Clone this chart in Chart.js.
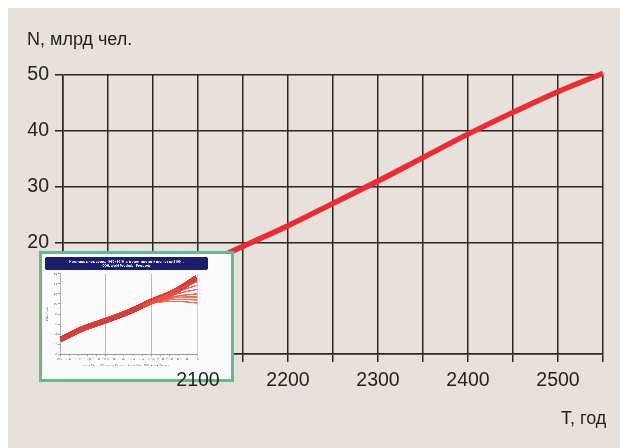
<!DOCTYPE html>
<html>
<head>
<meta charset="utf-8">
<script src="https://cdn.jsdelivr.net/npm/chart.js@4.4.1/dist/chart.umd.min.js"></script>
<style>
    html, body { margin: 0; padding: 0; background: #fff; overflow: hidden; }
    #frame { position: absolute; left: 8px; top: 8px; width: 612px; height: 440px; background: #e7e1db; }
    #main { position: absolute; left: 0; top: 0; }
    .lbl { position: absolute; font-family: 'Liberation Sans', Arial, sans-serif;
           font-size: 18px; color: #231f20; white-space: nowrap; line-height: normal; }
    #hold { position: absolute; left: -3000px; top: 0; }
</style>
</head>
<body>
<div id="frame"></div>
<canvas id="main" width="620" height="448"></canvas>
<div class="lbl" style="left:27px;top:29px">N, млрд чел.</div>
<div class="lbl" style="left:561px;top:408px">T, год</div>
<div id="hold"><canvas id="inset" width="195" height="131"></canvas></div>

<script>
/* ---- main chart data ---- */
const years = [2100, 2150, 2200, 2250, 2300, 2350, 2400, 2450, 2500, 2550];
const population = [15.6, 19.3, 23.0, 27.0, 31.0, 35.2, 39.4, 43.3, 47.0, 50.3];
const xTickLabels = [2100, 2200, 2300, 2400, 2500];
const yTickLabels = [20, 30, 40, 50];

/* ---- inset (old forecast picture) data ---- */
const insetYears = [1950, 1975, 2000, 2025, 2050, 2075, 2100];
const insetMedian = [2.9, 5.1, 6.7, 8.4, 10.5, 12.4, 15.2];
const fanYears = [2040, 2060, 2080, 2100];
const fanLines = [
    [9.6, 11.3, 13.0, 14.4],
    [9.6, 11.1, 12.5, 13.7],
    [9.6, 11.0, 12.1, 12.9],
    [9.6, 10.9, 11.6, 12.0],
    [9.6, 10.8, 11.3, 11.4],
    [9.6, 10.6, 10.9, 10.8],
    [9.6, 10.4, 10.5, 10.2]
];
const fanLabels = ['Верх. 95%', '', '', 'Прогноз', '', '', 'Ниж. 95%'];
const insetTitle = ['Население мира: оценка 1950–2010 гг. и вероятностный прогноз до 2100 г.',
                    'ООН, World Population Prospects'];

const FONT = "'Liberation Sans', Arial, sans-serif";
const GRID = '#2b2725';
const TEXT = '#231f20';
const RED = '#ee2a32';

const pts = (xs, ys) => xs.map((x, i) => ({ x, y: ys[i] }));

/* inset frame: white card, green border, navy title bar */
const insetFrame = {
    id: 'insetFrame',
    beforeDraw(chart) {
        const { ctx, width, height } = chart;
        ctx.save();
        ctx.fillStyle = '#fcfcfc';
        ctx.fillRect(0, 0, width, height);
        ctx.strokeStyle = '#64b98d';
        ctx.lineWidth = 3;
        ctx.strokeRect(1.5, 1.5, width - 3, height - 3);
        ctx.fillStyle = '#1d1e6b';
        ctx.beginPath();
        ctx.roundRect(6, 6, 163, 13, 2);
        ctx.fill();
        ctx.restore();
    }
};

const insetCanvas = document.getElementById('inset');
new Chart(insetCanvas, {
    type: 'line',
    data: {
        datasets: [
            ...fanLines.map((vals, i) => ({
                label: fanLabels[i], data: pts(fanYears, vals),
                borderColor: 'rgba(240,80,60,0.85)', borderWidth: 1.4, pointRadius: 0,
                cubicInterpolationMode: 'monotone'
            })),
            {
                label: 'Оценка', data: pts(insetYears, insetMedian),
                borderColor: 'rgba(206,36,34,0.88)', borderWidth: 6, pointRadius: 0,
                cubicInterpolationMode: 'monotone'
            }
        ]
    },
    options: {
        responsive: false, animation: false, devicePixelRatio: 3,
        layout: { padding: { left: 6, top: 7, right: 26, bottom: 5 } },
        plugins: {
            title: { display: true, text: insetTitle, color: '#e8e8f4', font: { family: 'Roboto', size: 3.2 }, padding: { top: 2, bottom: 6 } },
            legend: {
                position: 'bottom', maxWidth: 46,
                labels: {
                    font: { size: 3 }, color: '#9a9a9a', boxWidth: 6, boxHeight: 1, padding: 2,
                    generateLabels: chart => Chart.defaults.plugins.legend.labels.generateLabels(chart)
                        .filter(item => item.text !== '')
                        .map(item => ({ ...item, lineWidth: 0.5 }))
                }
            },
            tooltip: { enabled: false }
        },
        scales: {
            x: {
                type: 'linear', min: 1950, max: 2100,
                ticks: { stepSize: 10, autoSkip: false, maxRotation: 0, padding: 1, font: { size: 3 }, color: '#8e8e8e', callback: v => String(v) },
                grid: { color: c => (c.tick && c.tick.value % 50 === 0 && c.tick.value > 1950) ? '#b9b9b9' : 'rgba(0,0,0,0)',
                        tickColor: '#999', tickLength: 2, lineWidth: 0.8 },
                border: { color: '#999', width: 0.8 }
            },
            y: {
                min: 0, max: 16,
                ticks: { stepSize: 2, padding: 1, font: { size: 3 }, color: '#8e8e8e' },
                grid: { drawOnChartArea: false, tickColor: '#999', tickLength: 2 },
                border: { color: '#999', width: 0.8 },
                title: { display: true, text: 'млрд чел.', font: { size: 3 }, color: '#8a8a8a', padding: 0 },
                afterFit: s => { s.width = 15; }
            },
            yRight: {
                type: 'linear', axis: 'y', position: 'right', display: true,
                ticks: { display: false }, grid: { display: false }, border: { display: false },
                afterFit: s => { s.width = 11; }
            }
        }
    },
    plugins: [insetFrame]
});

/* paste the finished inset over the grid, under the x tick labels */
const insetPaste = {
    id: 'insetPaste',
    afterDatasetsDraw(chart) {
        chart.ctx.drawImage(insetCanvas, 39, 251, 195, 131);
    }
};

new Chart(document.getElementById('main'), {
    type: 'line',
    data: {
        datasets: [{
            data: pts(years, population),
            borderColor: RED, borderWidth: 5.5, pointRadius: 0,
            tension: 0.4, clip: false
        }]
    },
    options: {
        responsive: false, animation: false,
        layout: { padding: { left: 0, top: 75, right: 17, bottom: 54 } },
        plugins: { legend: { display: false }, tooltip: { enabled: false } },
        scales: {
            x: {
                type: 'linear', min: 1950, max: 2550,
                ticks: { stepSize: 50, autoSkip: false, maxRotation: 0, padding: 7, z: 1,
                         color: TEXT, font: { family: FONT, size: 19.5 },
                         callback: v => xTickLabels.includes(v) ? String(v) : '' },
                grid: { color: GRID, lineWidth: 1.5, tickLength: 8, tickColor: GRID },
                border: { color: GRID, width: 1.5 },
                afterFit: s => { s.height = 40; }
            },
            y: {
                min: 0, max: 50,
                ticks: { stepSize: 10, padding: 6, color: TEXT, font: { family: FONT, size: 19.5 },
                         callback: v => yTickLabels.includes(v) ? String(v) : '' },
                grid: { color: c => (c.tick && c.tick.value === 10) ? 'rgba(0,0,0,0)' : GRID,
                        lineWidth: 1.5, tickLength: 8 },
                border: { color: GRID, width: 1.5 },
                afterFit: s => { s.width = 63; }
            }
        }
    },
    plugins: [insetPaste]
});
</script>
</body>
</html>
